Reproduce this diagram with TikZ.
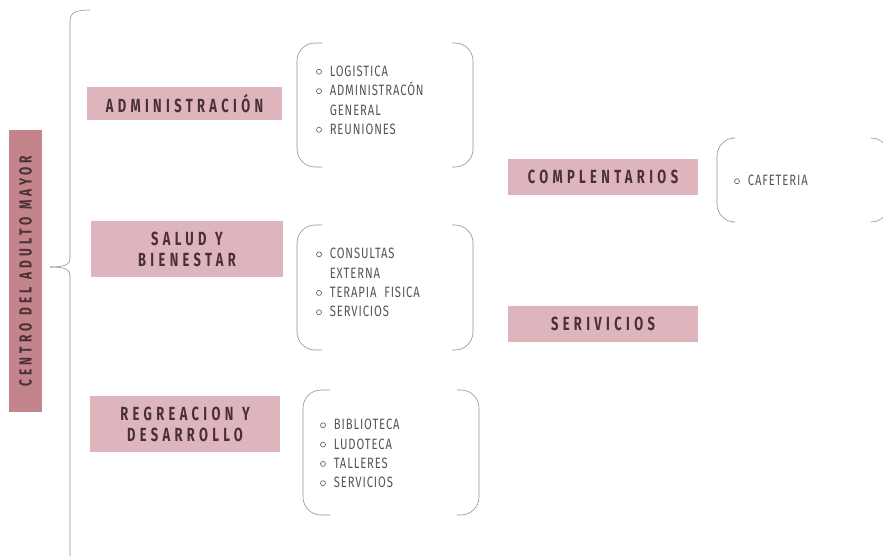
\documentclass[tikz,border=0pt]{standalone}
\usepackage{fontspec}
\setmainfont{Fira Sans}
\newfontfamily\headfont[FakeStretch=0.68,LetterSpace=23]{Fira Sans}
\newfontfamily\itemfont[FakeStretch=0.75,LetterSpace=6]{Fira Sans}
\definecolor{rosa}{HTML}{DFB5BD}
\definecolor{rosaosc}{HTML}{C4848C}
\definecolor{letra}{HTML}{4A3036}
\definecolor{gris}{HTML}{555555}
\definecolor{linea}{HTML}{9A8E90}
\tikzset{
  titulo/.style={fill=rosa, text=letra, align=center, inner sep=0pt,
    font=\headfont\bfseries\fontsize{19}{21}\selectfont},
  lista/.style={text=gris, anchor=west, inner sep=0pt,
    font=\itemfont\fontsize{15}{19.3}\selectfont},
  llave/.style={draw=linea, line width=0.6pt, rounded corners=18pt}
}
\newcommand{\vin}{\tikz[baseline=-4.6pt]\draw[gris, line width=0.6pt] (0,0) circle[radius=2.5pt];}
\newcommand{\esp}{\hspace{0.45em}}
\begin{document}
\begin{tikzpicture}[x=1pt,y=-1pt]
\useasboundingbox (0,0) rectangle (883,556);
% eje principal
\node[titulo, fill=rosaosc, rotate=90, minimum width=282, minimum height=33, font=\headfont\bfseries\fontsize{17.5}{21}\selectfont] (centro) at (25.5,271) {CENTRO\esp DEL\esp ADULTO\esp MAYOR};
\coordinate (punta) at (50,267);
\draw[draw=linea, line width=0.6pt] (90,10) .. controls (76,10) and (70,12) .. (70,22) -- (70,259) .. controls (70,264) and (66,267) .. (punta);
\draw[draw=linea, line width=0.6pt] (punta) .. controls (66,267) and (70,270) .. (70,275) -- (70,556);
% areas
\node[titulo, minimum width=195, minimum height=33] (admin) at (184.5,103.5) {ADMINISTRACIÓN};
\node[titulo, minimum width=192, minimum height=56] (salud) at (187,249) {SALUD\esp Y\\BIENESTAR};
\node[titulo, minimum width=190, minimum height=56] (recrea) at (185,424) {REGREACION\esp Y\\DESARROLLO};
\node[titulo, minimum width=190, minimum height=36] (compl) at (603,177) {COMPLENTARIOS};
\node[titulo, minimum width=190, minimum height=36] (servi) at (603,324) {SERIVICIOS};
% listas
\node[lista] (admin-l) at (316,101.5) {\begin{tabular}{@{}l@{\hspace{8pt}}l@{}}
\vin & LOGISTICA\\ \vin & ADMINISTRACÓN\\ & GENERAL\\ \vin & REUNIONES\end{tabular}};
\node[lista] (salud-l) at (316,284) {\begin{tabular}{@{}l@{\hspace{8pt}}l@{}}
\vin & CONSULTAS\\ & EXTERNA\\ \vin & TERAPIA\ \ FISICA\\ \vin & SERVICIOS\end{tabular}};
\node[lista] (recrea-l) at (320,455) {\begin{tabular}{@{}l@{\hspace{8pt}}l@{}}
\vin & BIBLIOTECA\\ \vin & LUDOTECA\\ \vin & TALLERES\\ \vin & SERVICIOS\end{tabular}};
\node[lista] (compl-l) at (734,182) {\begin{tabular}{@{}l@{\hspace{8pt}}l@{}}
\vin & CAFETERIA\end{tabular}};
% parentesis
\draw[llave] (322,43) -- (297,43) -- (297,167) -- (322,167);
\draw[llave] (452,43) -- (473,43) -- (473,167) -- (452,167);
\draw[llave] (322,225) -- (297,225) -- (297,350) -- (322,350);
\draw[llave] (452,225) -- (473,225) -- (473,350) -- (452,350);
\draw[llave] (330,390) -- (303,390) -- (303,515) -- (330,515);
\draw[llave] (457,390) -- (479,390) -- (479,515) -- (457,515);
\draw[llave] (732,138) -- (717,138) -- (717,222) -- (732,222);
\draw[llave] (872,138) -- (889,138) -- (889,222) -- (872,222);
\end{tikzpicture}
\end{document}
